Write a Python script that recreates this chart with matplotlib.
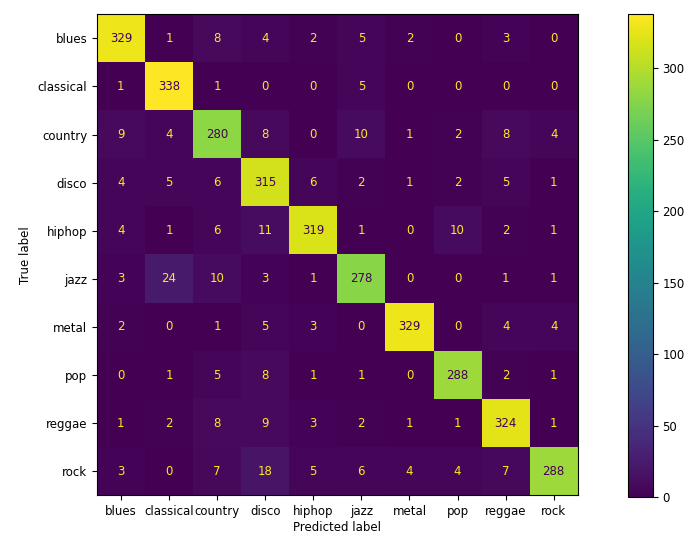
import numpy as np
import matplotlib
matplotlib.use("Agg")
import matplotlib.pyplot as plt

labels = ["blues", "classical", "country", "disco", "hiphop", "jazz", "metal", "pop", "reggae", "rock"]

row_blues = [329, 1, 8, 4, 2, 5, 2, 0, 3, 0]
row_classical = [1, 338, 1, 0, 0, 5, 0, 0, 0, 0]
row_country = [9, 4, 280, 8, 0, 10, 1, 2, 8, 4]
row_disco = [4, 5, 6, 315, 6, 2, 1, 2, 5, 1]
row_hiphop = [4, 1, 6, 11, 319, 1, 0, 10, 2, 1]
row_jazz = [3, 24, 10, 3, 1, 278, 0, 0, 1, 1]
row_metal = [2, 0, 1, 5, 3, 0, 329, 0, 4, 4]
row_pop = [0, 1, 5, 8, 1, 1, 0, 288, 2, 1]
row_reggae = [1, 2, 8, 9, 3, 2, 1, 1, 324, 1]
row_rock = [3, 0, 7, 18, 5, 6, 4, 4, 7, 288]

cm = np.array([row_blues, row_classical, row_country, row_disco, row_hiphop,
               row_jazz, row_metal, row_pop, row_reggae, row_rock])

fig = plt.figure(figsize=(6.87, 5.37), dpi=100)
ax = fig.add_axes([0.141, 0.073, 0.700, 0.905])
cax = fig.add_axes([0.914, 0.074, 0.036, 0.900])

cmap = plt.get_cmap("viridis")
im = ax.imshow(cm, cmap=cmap, interpolation="nearest")
thresh = (cm.max() + cm.min()) / 2.0
for i in range(cm.shape[0]):
    for j in range(cm.shape[1]):
        color = cmap(0.0) if cm[i, j] >= thresh else cmap(1.0)
        ax.text(j, i, str(cm[i, j]), ha="center", va="center", color=color, fontsize=8.5)

ax.set_xticks(range(len(labels)))
ax.set_xticklabels(labels, fontsize=8.5)
ax.set_yticks(range(len(labels)))
ax.set_yticklabels(labels, fontsize=8.5)
ax.set_xlabel("Predicted label", fontsize=8.5, labelpad=2)
ax.set_ylabel("True label", fontsize=8.5)

cb = fig.colorbar(im, cax=cax)
cb.set_ticks([0, 50, 100, 150, 200, 250, 300])
cb.ax.tick_params(labelsize=8.5)

fig.savefig("out.png", dpi=100)
